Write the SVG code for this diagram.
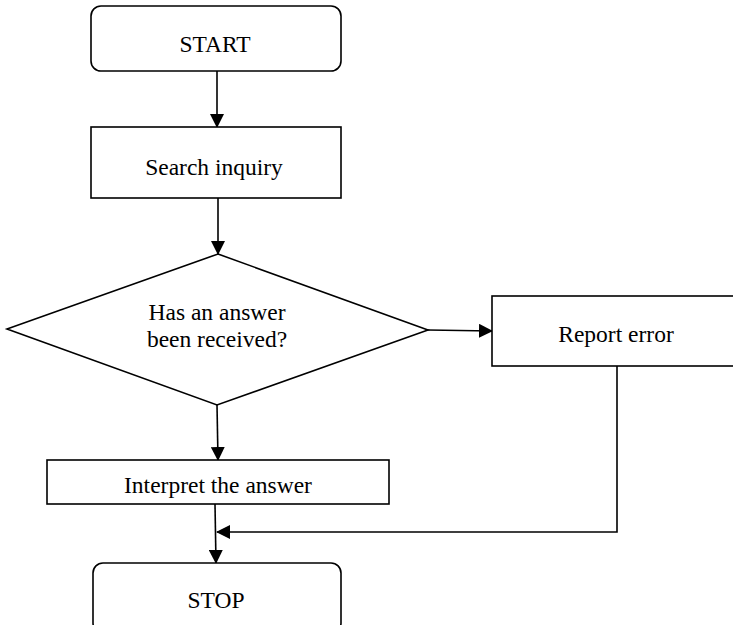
<svg xmlns="http://www.w3.org/2000/svg" width="733" height="625" viewBox="0 0 733 625">
<defs>
<marker id="arr" markerWidth="14" markerHeight="14" refX="13" refY="7" orient="auto" markerUnits="userSpaceOnUse">
<path d="M0,0 L14,7 L0,14 Z" fill="#000"/>
</marker>
<style>
.shape{fill:#fff;stroke:#000;stroke-width:1.6}
.lbl{font-family:"Liberation Serif","Times New Roman",serif;font-size:23.5px;fill:#000;text-anchor:middle}
.con{fill:none;stroke:#000;stroke-width:1.6}
</style>
</defs>
<rect width="733" height="625" fill="#fff"/>
<g id="connectors">
<line class="con" x1="217" y1="71" x2="217" y2="127" marker-end="url(#arr)"/>
<line class="con" x1="218" y1="198" x2="218" y2="254" marker-end="url(#arr)"/>
<line class="con" x1="428" y1="330" x2="492" y2="331" marker-end="url(#arr)"/>
<line class="con" x1="217" y1="405" x2="218" y2="460" marker-end="url(#arr)"/>
<line class="con" x1="215" y1="504" x2="216" y2="563" marker-end="url(#arr)"/>
<polyline class="con" points="617,366 617,532 217,532" marker-end="url(#arr)"/>
</g>
<g id="start">
<rect class="shape" x="91" y="6" width="250" height="65" rx="10"/>
<text class="lbl" x="215" y="52">START</text>
</g>
<g id="search">
<rect class="shape" x="91" y="127" width="250" height="71"/>
<text class="lbl" x="214" y="175">Search inquiry</text>
</g>
<g id="decision">
<polygon class="shape" points="218,254 428,330 217,405 7,329"/>
<text class="lbl" x="217" y="320">Has an answer</text>
<text class="lbl" x="217" y="347">been received?</text>
</g>
<g id="report">
<rect class="shape" x="492" y="296" width="250" height="70"/>
<text class="lbl" x="616" y="342">Report error</text>
</g>
<g id="interpret">
<rect class="shape" x="47" y="460" width="342" height="44"/>
<text class="lbl" x="218" y="493">Interpret the answer</text>
</g>
<g id="stop">
<rect class="shape" x="93" y="563" width="248" height="70" rx="10"/>
<text class="lbl" x="216" y="608">STOP</text>
</g>
</svg>
